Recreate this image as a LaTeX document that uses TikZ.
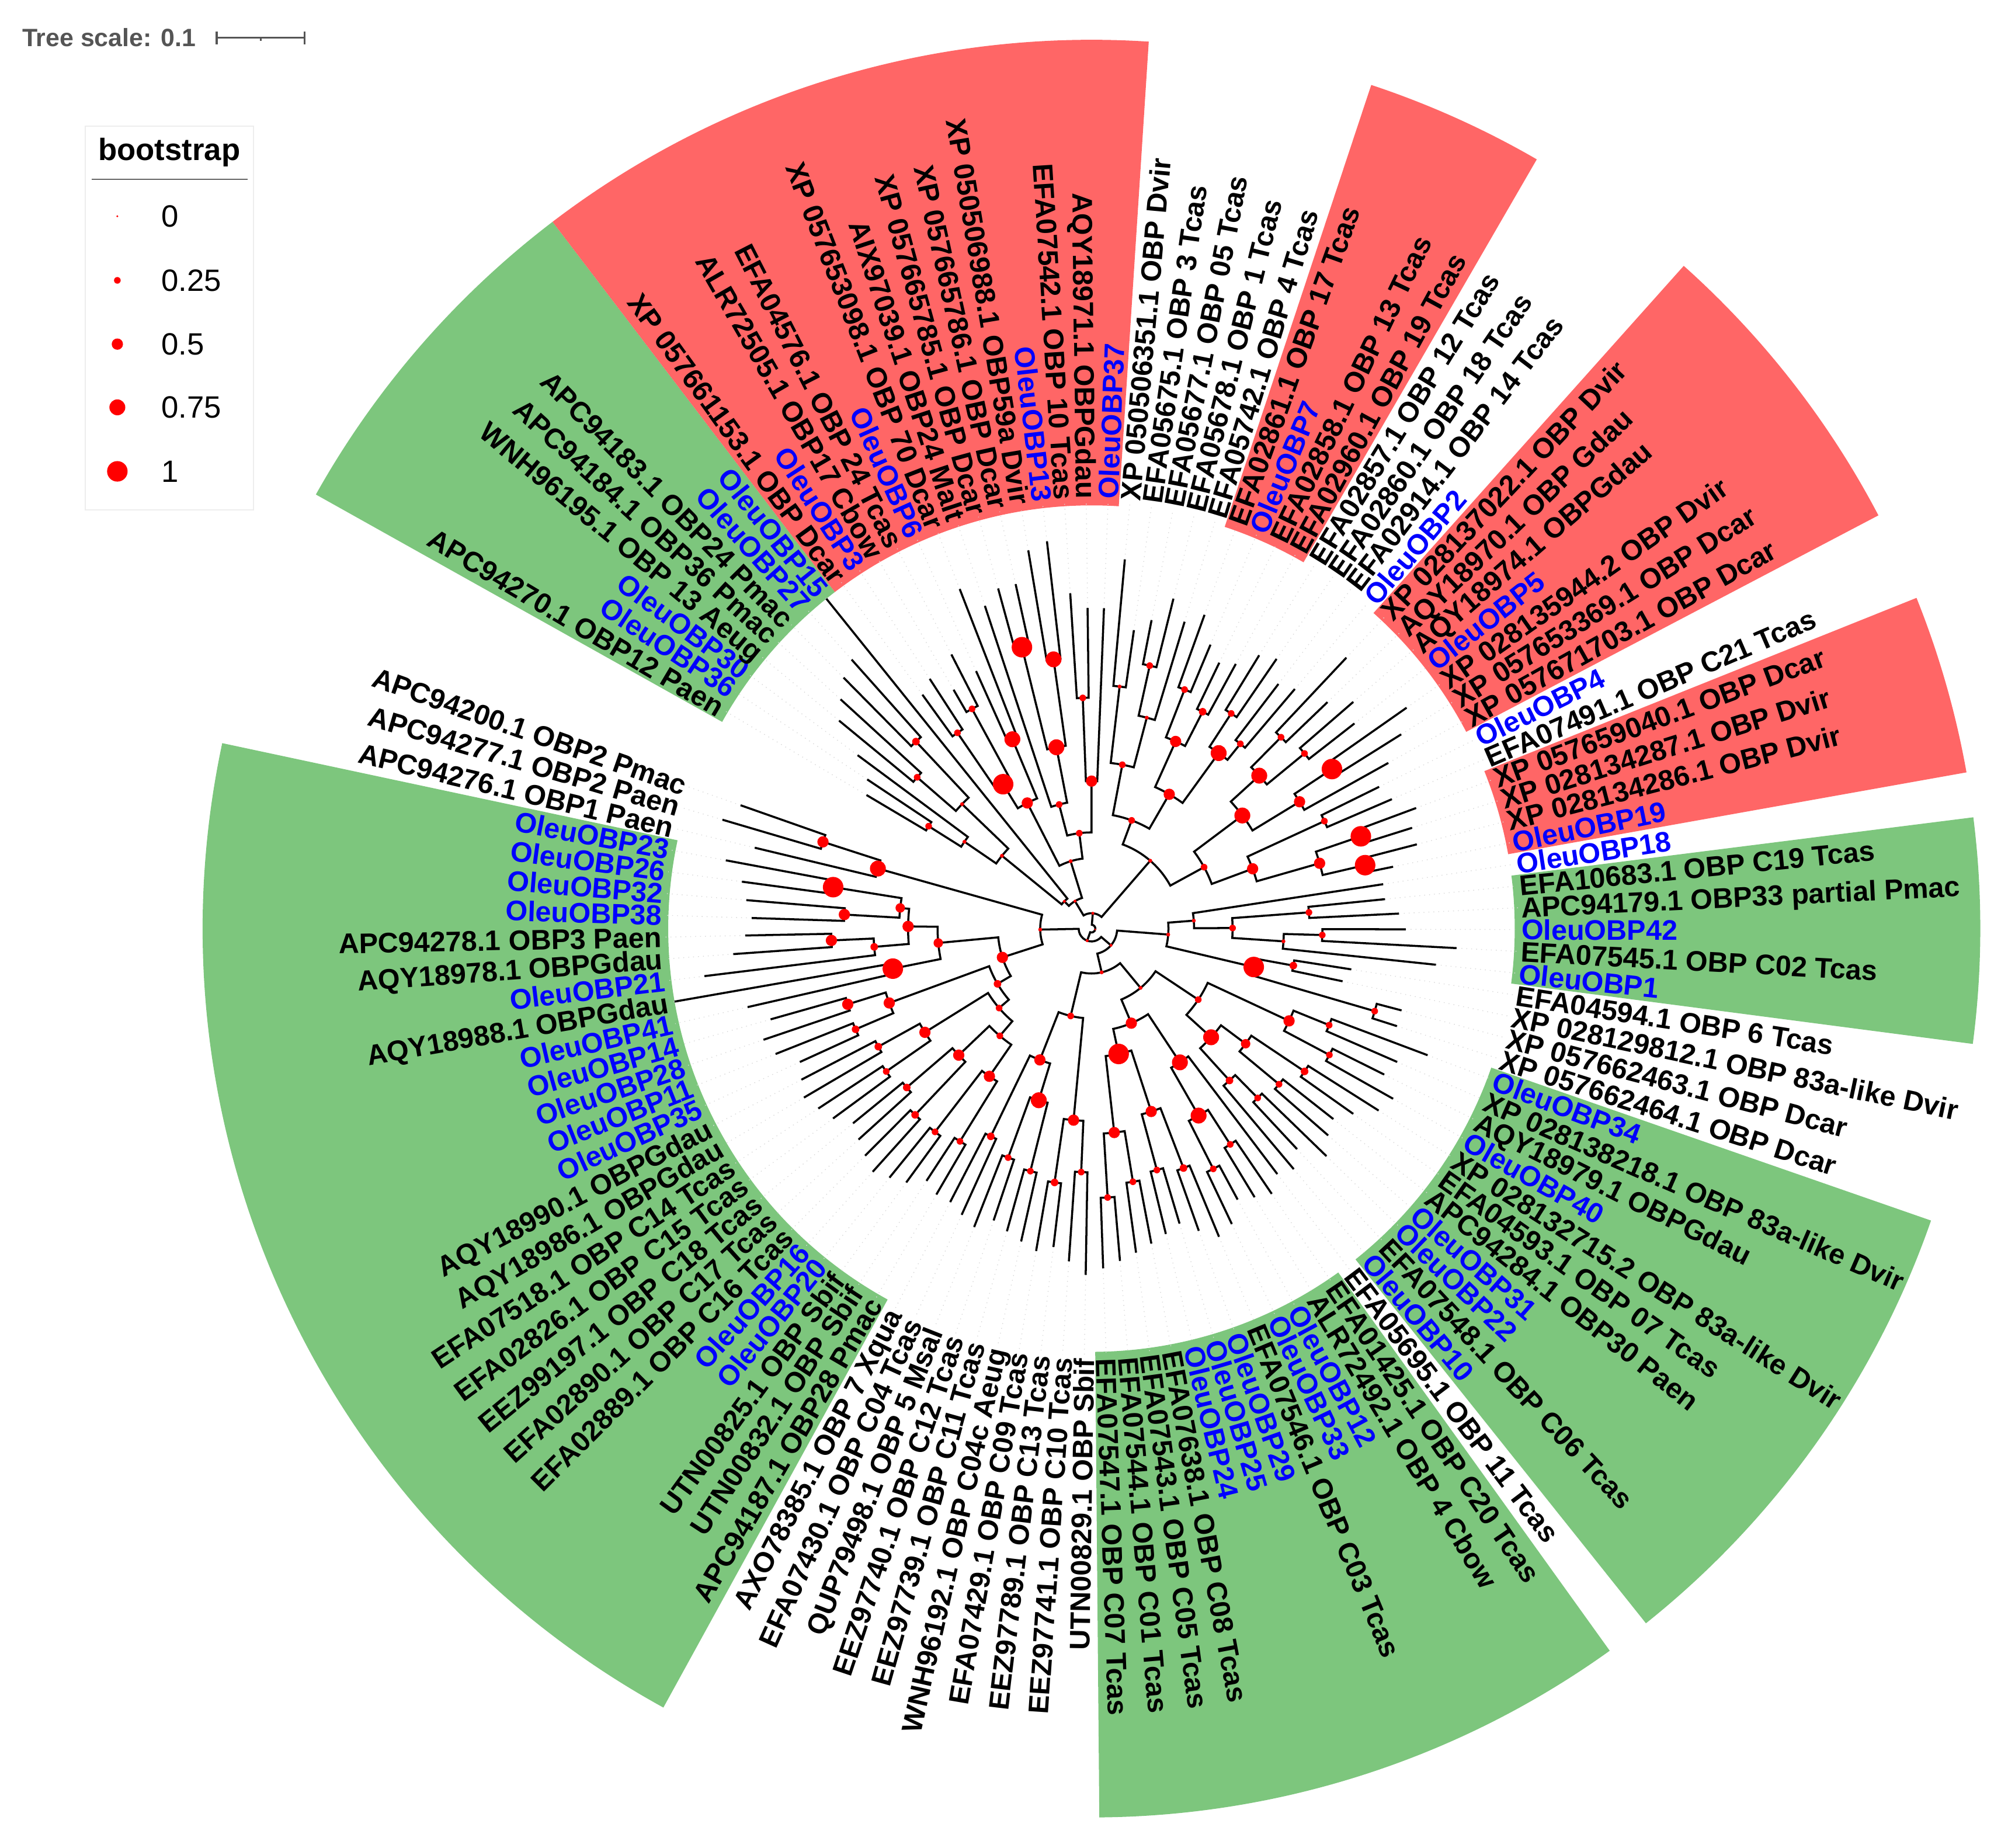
\documentclass[tikz,border=0pt]{standalone}
\usepackage{fontspec}
\setmainfont{Liberation Sans}
\usepackage{tikz}
\pgfdeclarelayer{front}
\pgfsetlayers{main,front}
\definecolor{redrange}{RGB}{255,102,102}
\definecolor{greenrange}{RGB}{125,198,125}
\definecolor{obpblue}{RGB}{0,0,255}
\definecolor{bsred}{RGB}{255,0,0}
\definecolor{scalegrey}{RGB}{85,85,85}
\tikzset{
  branch/.style={line width=1pt, black},
  leafdot/.style={black!15, dotted, line width=0.4pt},
  leaflabel/.style={font=\bfseries\fontsize{13.8}{16}\selectfont, inner sep=0pt, text height=9.9pt, text depth=0pt},
  legendtext/.style={font=\fontsize{15}{18}\selectfont, inner sep=0pt}
}
\def\leafang#1{149.3-(#1-1)*2.93}
\def\childinfo#1#2{%
  \ifnum#1=#2\relax
    \pgfmathsetmacro\cang{\leafang{#1}}%
    \edef\crad{\csname tip#1\endcsname}%
  \else
    \edef\cang{\csname nang#1-#2\endcsname}%
    \edef\crad{\csname nrad#1-#2\endcsname}%
  \fi}

\begin{document}
\begin{tikzpicture}[x=0.02196cm, y=0.02196cm]
		%%%%% START %%%%%
		\useasboundingbox (-851,-716.8) rectangle (709.1,724);
		
		% clade ranges
		\foreach \ga/\gb/\gc in {1/8/greenrange, 9/22/redrange, 28/31/redrange, 36/42/redrange, 45/48/redrange,
			50/54/greenrange, 59/69/greenrange, 71/82/greenrange, 93/117/greenrange}{
			\pgfmathsetmacro\tA{\leafang{\ga}+1.465}
			\pgfmathsetmacro\tB{\leafang{\gb}-1.465}
			\fill[\gc] (\tA:330) arc[start angle=\tA, end angle=\tB, radius=330] -- (\tB:693) arc[start angle=\tB, end angle=\tA, radius=693] -- cycle;
		}
		
		% leaves and labels
		\foreach \k/\txt/\col/\tip in {
			1/APC94270.1 OBP12 Paen/black/204, 2/OleuOBP36/obpblue/210, 3/OleuOBP30/obpblue/227,
			4/WNH96195.1 OBP 13 Aeug/black/255, 5/APC94184.1 OBP36 Pmac/black/265, 6/APC94183.1 OBP24 Pmac/black/275,
			7/OleuOBP27/obpblue/281, 8/OleuOBP15/obpblue/330, 9/XP 057661153.1 OBP Dcar/black/225,
			10/OleuOBP3/obpblue/232, 11/ALR72505.1 OBP17 Cbow/black/215, 12/EFA04576.1 OBP 24 Tcas/black/240,
			13/OleuOBP6/obpblue/220, 14/XP 057653098.1 OBP 70 Dcar/black/284, 15/AIX97039.1 OBP24 Malt/black/265,
			16/XP 057665785.1 OBP Dcar/black/275, 17/XP 057665786.1 OBP Dcar/black/275, 18/XP 050506988.1 OBP59a Dvir/black/299,
			19/OleuOBP13/obpblue/304, 20/EFA07542.1 OBP 10 Tcas/black/262, 21/AQY18971.1 OBPGdau/black/250,
			22/OleuOBP37/obpblue/250, 23/XP 050506351.1 OBP Dvir/black/289, 24/EFA05675.1 OBP 3 Tcas/black/235,
			25/EFA05677.1 OBP 05 Tcas/black/245, 26/EFA05678.1 OBP 1 Tcas/black/265, 27/EFA05742.1 OBP 4 Tcas/black/250,
			28/EFA02861.1 OBP 17 Tcas/black/260, 29/OleuOBP7/obpblue/240, 30/EFA02858.1 OBP 13 Tcas/black/230,
			31/EFA02960.1 OBP 19 Tcas/black/235, 32/EFA02857.1 OBP 12 Tcas/black/250, 33/EFA02860.1 OBP 18 Tcas/black/255,
			34/EFA02914.1 OBP 14 Tcas/black/240, 35/OleuOBP2/obpblue/245, 36/XP 028137022.1 OBP Dvir/black/290,
			37/AQY18970.1 OBP Gdau/black/255, 38/AQY18974.1 OBPGdau/black/270, 39/OleuOBP5/obpblue/260,
			40/XP 028135944.2 OBP Dvir/black/300, 41/XP 057653369.1 OBP Dcar/black/285, 42/XP 057671703.1 OBP Dcar/black/265,
			43/OleuOBP4/obpblue/250, 44/EFA07491.1 OBP C21 Tcas/black/255, 45/XP 057659040.1 OBP Dcar/black/270,
			46/XP 028134287.1 OBP Dvir/black/262, 47/XP 028134286.1 OBP Dvir/black/262, 48/OleuOBP19/obpblue/240,
			49/OleuOBP18/obpblue/230, 50/EFA10683.1 OBP C19 Tcas/black/230, 51/APC94179.1 OBP33 partial Pmac/black/240,
			52/OleuOBP42/obpblue/245, 53/EFA07545.1 OBP C02 Tcas/black/285, 54/OleuOBP1/obpblue/270,
			55/EFA04594.1 OBP 6 Tcas/black/205, 56/XP 028129812.1 OBP 83a-like Dvir/black/200, 57/XP 057662463.1 OBP Dcar/black/250,
			58/XP 057662464.1 OBP Dcar/black/250, 59/OleuOBP34/obpblue/280, 60/XP 028138218.1 OBP 83a-like Dvir/black/260,
			61/AQY18979.1 OBPGdau/black/255, 62/OleuOBP40/obpblue/270, 63/XP 028132715.2 OBP 83a-like Dvir/black/265,
			64/EFA04593.1 OBP 07 Tcas/black/250, 65/APC94284.1 OBP30 Paen/black/240, 66/OleuOBP31/obpblue/245,
			67/OleuOBP22/obpblue/255, 68/EFA07548.1 OBP C06 Tcas/black/235, 69/OleuOBP10/obpblue/245,
			70/EFA05695.1 OBP 11 Tcas/black/240, 71/EFA01425.1 OBP C20 Tcas/black/250, 72/ALR72492.1 OBP 4 Cbow/black/245,
			73/OleuOBP12/obpblue/240, 74/OleuOBP33/obpblue/255, 75/EFA07546.1 OBP C03 Tcas/black/260,
			76/OleuOBP29/obpblue/250, 77/OleuOBP25/obpblue/240, 78/OleuOBP24/obpblue/245,
			79/EFA07638.1 OBP C08 Tcas/black/250, 80/EFA07543.1 OBP C05 Tcas/black/255, 81/EFA07544.1 OBP C01 Tcas/black/260,
			82/EFA07547.1 OBP C07 Tcas/black/265, 83/UTN00829.1 OBP Sbif/black/270, 84/EEZ97741.1 OBP C10 Tcas/black/260,
			85/EEZ97789.1 OBP C13 Tcas/black/250, 86/EFA07429.1 OBP C09 Tcas/black/255, 87/WNH96192.1 OBP C04c Aeug/black/250,
			88/EEZ97739.1 OBP C11 Tcas/black/245, 89/EEZ97740.1 OBP C12 Tcas/black/240, 90/QUP79498.1 OBP 5 Msal/black/250,
			91/EFA07430.1 OBP C04 Tcas/black/245, 92/AXO78385.1 OBP 7 Xqua/black/240, 93/APC94187.1 OBP28 Pmac/black/240,
			94/UTN00832.1 OBP Sbif/black/235, 95/UTN00825.1 OBP Sbif/black/245, 96/OleuOBP20/obpblue/250,
			97/OleuOBP16/obpblue/255, 98/EFA02889.1 OBP C16 Tcas/black/250, 99/EFA02890.1 OBP C17 Tcas/black/245,
			100/EEZ99197.1 OBP C18 Tcas/black/240, 101/EFA02826.1 OBP C15 Tcas/black/250, 102/EFA07518.1 OBP C14 Tcas/black/255,
			103/AQY18986.1 OBPGdau/black/260, 104/AQY18990.1 OBPGdau/black/255, 105/OleuOBP35/obpblue/250,
			106/OleuOBP11/obpblue/265, 107/OleuOBP28/obpblue/270, 108/OleuOBP14/obpblue/260,
			109/OleuOBP41/obpblue/275, 110/AQY18988.1 OBPGdau/black/330, 111/OleuOBP21/obpblue/304,
			112/AQY18978.1 OBPGdau/black/280, 113/APC94278.1 OBP3 Paen/black/270, 114/OleuOBP38/obpblue/265,
			115/OleuOBP32/obpblue/270, 116/OleuOBP26/obpblue/275, 117/OleuOBP23/obpblue/290,
			118/APC94276.1 OBP1 Paen/black/270, 119/APC94277.1 OBP2 Paen/black/300, 120/APC94200.1 OBP2 Pmac/black/290}{
			\pgfmathsetmacro\ang{\leafang{\k}}
			\expandafter\xdef\csname tip\k\endcsname{\tip}
			\draw[leafdot] (\ang:\tip) -- (\ang:333);
			\pgfmathtruncatemacro\rside{cos(\ang)>0}
			\ifnum\rside=1
				\node[leaflabel, text=\col, anchor=west, rotate=\ang] (l\k) at (\ang:335) {\txt};
			\else
				\pgfmathsetmacro\rot{\ang+180}
				\node[leaflabel, text=\col, anchor=east, rotate=\rot] (l\k) at (\ang:335) {\txt};
			\fi
		}
		
		% tree: first/split/last/radius/bootstrap, children before parents
		\foreach \na/\ns/\nb/\nr/\bs in {
			1/1/2/150/0.25, 1/2/3/120/0.1, 4/4/5/180/0.25, 6/6/7/200/0.3, 4/5/7/140/0.1, 1/3/7/90/0.1, 1/7/8/30/0.05,
			9/9/10/185/0.25, 11/11/12/195/0.25, 9/10/12/132/1, 13/13/14/160/0.75, 9/12/14/110/0.5,
			16/16/17/226/1, 18/18/19/212/0.75, 16/17/19/144/0.75, 15/15/19/100/0.25, 20/20/21/180/0.25,
			20/21/22/115/0.5, 15/19/22/75/0.25, 9/14/22/55/0.1, 1/8/22/25/0.05,
			23/23/24/190/0.1, 25/25/26/210/0.25, 25/26/27/170/0.1, 23/24/27/130/0.25, 28/28/29/200/0.25,
			30/30/31/190/0.3, 28/29/31/160/0.5, 32/32/33/200/0.25, 34/34/35/185/0.25, 32/33/35/169/0.75,
			28/31/35/121/0.5, 23/27/35/90/0.25,
			36/36/37/210/0.25, 38/38/39/215/0.25, 36/37/39/177/0.75, 40/40/41/225/1, 40/41/42/190/0.5,
			36/39/42/147/0.75, 43/43/44/200/0.25, 45/45/46/222/1, 47/47/48/219/1, 45/46/48/185/0.5,
			43/44/48/134/0.5, 36/42/48/100/0.25, 23/35/48/70/0.1, 1/22/48/12/0.05,
			50/50/51/170/0.25, 52/52/53/180/0.25, 52/53/54/150/0.1, 50/51/54/110/0.25, 49/49/54/80/0.1,
			55/55/56/160/0.3, 57/57/58/230/0.25, 55/56/58/130/1, 49/54/58/60/0.1,
			59/59/60/200/0.25, 61/61/62/210/0.25, 59/60/62/170/0.5, 63/63/64/200/0.3, 65/65/66/190/0.25,
			63/64/66/150/0.4, 67/67/68/185/0.25, 67/68/69/160/0.3, 63/66/69/126/0.75, 59/62/69/100/0.25,
			71/71/72/200/0.25, 73/73/74/210/0.25, 71/72/74/168/0.75, 70/70/74/125/0.75, 75/75/76/200/0.3,
			77/77/78/195/0.25, 75/76/78/150/0.5, 79/79/80/200/0.25, 81/81/82/210/0.25, 79/80/82/160/0.5,
			75/78/82/100/1, 70/74/82/80/0.5,
			83/83/84/190/0.25, 85/85/86/200/0.3, 83/84/86/150/0.5, 87/87/88/195/0.25, 89/89/90/190/0.25,
			87/88/90/140/0.75, 91/91/92/180/0.3, 87/90/92/110/0.5, 83/86/92/70/0.25,
			59/69/82/60/0.1, 59/82/92/35/0.1, 49/58/92/20/0.05,
			93/93/94/195/0.25, 95/95/96/200/0.25, 93/94/96/140/0.5, 97/97/98/200/0.3, 99/99/100/190/0.3,
			97/98/100/143/0.5, 93/96/100/110/0.25, 101/101/102/195/0.25, 103/103/104/190/0.3,
			101/102/104/153/0.5, 93/100/104/95/0.25, 105/105/106/200/0.3, 107/107/108/199/0.5,
			105/106/108/168/0.5, 93/104/108/85/0.3, 109/109/110/158/1, 112/112/113/203/0.5,
			111/111/113/170/0.3, 114/114/115/193/0.5, 116/116/117/204/1, 114/115/117/150/0.4,
			111/113/117/143/0.5, 109/110/117/120/0.4, 93/108/117/73/0.5, 119/119/120/220/0.5,
			118/118/120/173/0.75, 93/117/120/40/0.1, 49/92/120/10/0.05, 1/48/120/3/0}{
			\pgfmathtruncatemacro\sn{\ns+1}
			\childinfo{\na}{\ns}\let\angA\cang\let\radA\crad
			\childinfo{\sn}{\nb}\let\angB\cang\let\radB\crad
			\pgfmathsetmacro\angN{(\angA+\angB)/2}
			\draw[branch] (\angA:\radA) -- (\angA:\nr) arc[start angle=\angA, end angle=\angB, radius=\nr] -- (\angB:\radB);
			\pgfmathsetmacro\dotr{0.8+7.2*\bs}
			\begin{pgfonlayer}{front}
				\fill[bsred] (\angN:\nr) circle[radius=\dotr];
			\end{pgfonlayer}
			\expandafter\xdef\csname nang\na-\nb\endcsname{\angN}
			\expandafter\xdef\csname nrad\na-\nb\endcsname{\nr}
		}
		
		% tree scale
		\node[anchor=west, text=scalegrey, font=\bfseries\fontsize{12.2}{14}\selectfont, inner sep=0pt] (treescale) at (-834,694.6) {Tree scale: 0.1};
		\draw[scalegrey, line width=1pt] (-682,694.6) -- (-613.5,694.6);
		\draw[scalegrey, line width=1pt] (-682,689.6) -- (-682,699.6);
		\draw[scalegrey, line width=1pt] (-613.5,689.6) -- (-613.5,699.6);
		\draw[scalegrey, line width=1pt] (-647.75,694.6) -- (-647.75,692);
		
		% bootstrap legend
		\draw[black!7, line width=0.5pt] (-784.4,326.5) rectangle (-653.5,625.6);
		\node[font=\bfseries\fontsize{15}{18}\selectfont, inner sep=0pt] (bstitle) at (-719,605) {bootstrap};
		\draw[black!60, line width=0.6pt] (-779.4,584) -- (-658.1,584);
		\foreach \v/\yy [count=\i] in {0/555.4, 0.25/505.4, 0.5/455.7, 0.75/406.4, 1/356.5}{
			\pgfmathsetmacro\dotr{0.8+7.2*\v}
			\fill[bsred] (-759.5,\yy) circle[radius=\dotr];
			\node[legendtext, anchor=west] (bs\i) at (-725.5,\yy) {\v};
		}
		
		%%%%% END %%%%%
\end{tikzpicture}
\end{document}
